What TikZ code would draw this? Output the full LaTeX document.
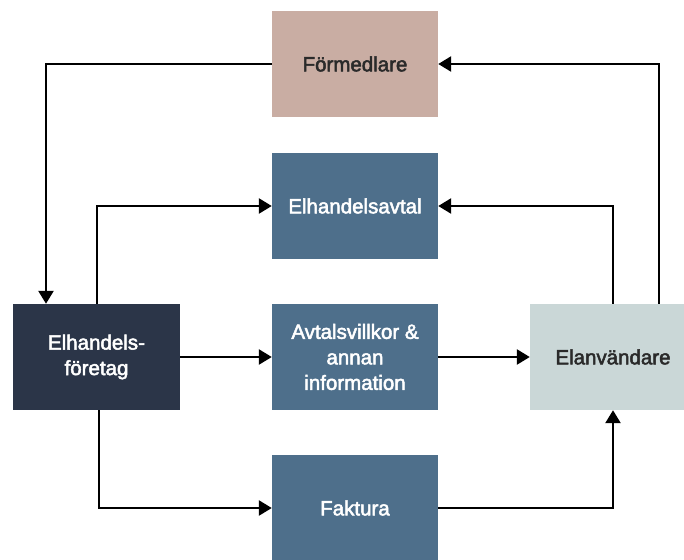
\documentclass[tikz,border=0pt]{standalone}
\usepackage{fontspec}
\setmainfont{Liberation Sans}[FakeBold=2.4]
\usetikzlibrary{arrows.meta,calc}
\definecolor{cpink}{HTML}{C9ADA3}
\definecolor{cblue}{HTML}{4E6F8B}
\definecolor{cdark}{HTML}{2B3548}
\definecolor{clight}{HTML}{CAD7D7}
\definecolor{ctext}{HTML}{2A2A2A}
\tikzset{
  boxbase/.style={rectangle, minimum width=166pt, minimum height=106pt, inner sep=0pt, align=center, font=\fontsize{20.5}{25.5}\selectfont},
  pinkbox/.style={boxbase, fill=cpink, text=ctext},
  bluebox/.style={boxbase, fill=cblue, text=white},
  darkbox/.style={boxbase, fill=cdark, text=white},
  lightbox/.style={boxbase, fill=clight, text=ctext},
  conn/.style={line width=2.5pt, -{Triangle[length=13pt,width=15pt]}}
}
\begin{document}
\begin{tikzpicture}[x=1pt,y=-1pt]
\useasboundingbox (0,0) rectangle (684,559);
\begin{scope}
\clip (0,0) rectangle (684,559);
\node[pinkbox] (form) at (355,64) {Förmedlare};
\node[bluebox] (avtal) at (355,206) {Elhandelsavtal};
\node[bluebox] (villkor) at (355,357) {Avtalsvillkor \&\\annan\\information};
\node[bluebox] (faktura) at (355,508) {Faktura};
\node[darkbox, minimum width=167pt] (foretag) at (96.5,357) {Elhandels-\\företag};
\node[lightbox] (anv) at (613,357) {Elanvändare};
\end{scope}
\coordinate (c1) at (46,64);
\coordinate (c2) at (97,206);
\coordinate (c3) at (99,508);
\coordinate (c4) at (613,508);
\coordinate (c5) at (613,206);
\coordinate (c6) at (659,64);
\draw[conn] (form.west) -- (c1) -- (c1 |- foretag.north);
\draw[conn] (c2 |- foretag.north) -- (c2) -- (avtal.west);
\draw[conn] (foretag.east) -- (villkor.west);
\draw[conn] (villkor.east) -- (anv.west);
\draw[conn] (c3 |- foretag.south) -- (c3) -- (faktura.west);
\draw[conn] (faktura.east) -- (c4) -- (anv.south);
\draw[conn] (anv.north) -- (c5) -- (avtal.east);
\draw[conn] (c6 |- anv.north) -- (c6) -- (form.east);
\end{tikzpicture}
\end{document}
